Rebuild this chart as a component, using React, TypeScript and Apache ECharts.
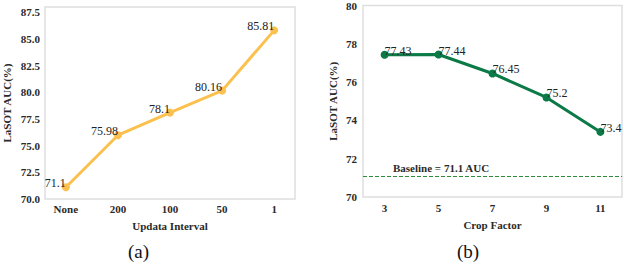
import React, { useEffect, useRef } from "react";
import * as echarts from "echarts";

const intervalCats = ["None", "200", "100", "50", "1"];
const intervalAUC = [71.1, 75.98, 78.1, 80.16, 85.81];
const aTicks = [70, 72.5, 75, 77.5, 80, 82.5, 85, 87.5];

const cropFactors = [3, 5, 7, 9, 11];
const cropAUC = [77.43, 77.44, 76.45, 75.2, 73.4];
const bTicks = [70, 72, 74, 76, 78, 80];
const baseline = 71.1;

const SERIF = "Liberation Serif";
const YELLOW = "#fcc04f";
const GREEN = "#0b7a47";

export default function App() {
  const ref = useRef<HTMLDivElement>(null);
  useEffect(() => {
    if (!ref.current) return;
    const chart = echarts.init(ref.current, null, { renderer: "svg" });
    const tickLabel = { fontFamily: SERIF, fontWeight: "bold" as const, fontSize: 11, color: "#2a2a2a" };
    const axisName = { fontFamily: SERIF, fontWeight: "bold" as const, fontSize: 11, color: "#2a2a2a" };
    chart.setOption({
      animation: false,
      backgroundColor: "#fff",
      grid: [
        { left: 39, top: 7, width: 256, height: 192, show: true, borderColor: "#dedede", borderWidth: 1.5, backgroundColor: "transparent" },
        { left: 363, top: 3, width: 259, height: 194, show: true, borderColor: "#dedede", borderWidth: 1.5, backgroundColor: "transparent" },
      ],
      xAxis: [
        {
          type: "value", gridIndex: 0, min: -0.4, max: 4.4,
          name: "Updata Interval", nameLocation: "middle", nameGap: 21, nameTextStyle: axisName,
          axisLine: { show: false }, axisTick: { show: false }, splitLine: { show: false },
          axisLabel: { ...tickLabel, margin: 4, customValues: intervalCats.map((_, i) => i), formatter: (v: number) => intervalCats[Math.round(v)] ?? "" },
        },
        {
          type: "value", gridIndex: 1, min: 2.2, max: 11.8,
          name: "Crop Factor", nameLocation: "middle", nameGap: 22, nameTextStyle: axisName,
          axisLine: { show: false }, axisTick: { show: false }, splitLine: { show: false },
          axisLabel: { ...tickLabel, margin: 5, customValues: cropFactors, formatter: (v: number) => String(v) },
        },
      ],
      yAxis: [
        {
          type: "value", gridIndex: 0, min: 70, max: 88,
          name: "LaSOT AUC(%)", nameLocation: "middle", nameGap: 33, nameTextStyle: axisName,
          axisLine: { show: false }, axisTick: { show: false }, splitLine: { show: false },
          axisLabel: { ...tickLabel, margin: 5, customValues: aTicks, formatter: (v: number) => v.toFixed(1) },
        },
        {
          type: "value", gridIndex: 1, min: 70, max: 80,
          name: "LaSOT AUC(%)", nameLocation: "middle", nameGap: 25, nameTextStyle: axisName,
          axisLine: { show: false }, axisTick: { show: false }, splitLine: { show: false },
          axisLabel: { ...tickLabel, margin: 6, customValues: bTicks, formatter: (v: number) => String(v) },
        },
      ],
      series: [
        {
          type: "line", xAxisIndex: 0, yAxisIndex: 0,
          data: intervalAUC.map((v, i) => [i, v]),
          symbol: "circle", symbolSize: 8,
          lineStyle: { color: YELLOW, width: 3 }, itemStyle: { color: YELLOW },
          label: {
            show: true, position: "left", distance: 0, verticalAlign: "bottom", align: "right", offset: [4, 2],
            fontFamily: SERIF, fontSize: 12, color: "#222",
            formatter: (p: any) => String(p.value[1]),
          },
        },
        {
          type: "line", xAxisIndex: 1, yAxisIndex: 1,
          data: cropFactors.map((c, i) => [c, cropAUC[i]]),
          symbol: "circle", symbolSize: 8,
          lineStyle: { color: GREEN, width: 3 }, itemStyle: { color: GREEN },
          label: {
            show: true, position: "right", distance: 0, verticalAlign: "bottom", align: "left", offset: [-4, 2],
            fontFamily: SERIF, fontSize: 12, color: "#222",
            formatter: (p: any) => String(p.value[1]),
          },
          markLine: {
            silent: true, symbol: "none",
            lineStyle: { color: "#2f8a3a", type: [4, 2], width: 1 },
            label: {
              show: true, position: "insideStartTop", distance: [30, 2],
              formatter: "Baseline = " + baseline + " AUC",
              fontFamily: SERIF, fontWeight: "bold", fontSize: 11, color: "#2a2a2a",
            },
            data: [{ yAxis: baseline }],
          },
        },
      ],
      graphic: [
        { type: "text", left: 128, top: 242, style: { text: "(a)", font: `19px ${SERIF}`, fill: "#111" } },
        { type: "text", left: 457, top: 242, style: { text: "(b)", font: `19px ${SERIF}`, fill: "#111" } },
      ],
    });
    return () => chart.dispose();
  }, []);
  return <div ref={ref} style={{ position: "fixed", left: 0, top: 0, width: 624, height: 266 }} />;
}
